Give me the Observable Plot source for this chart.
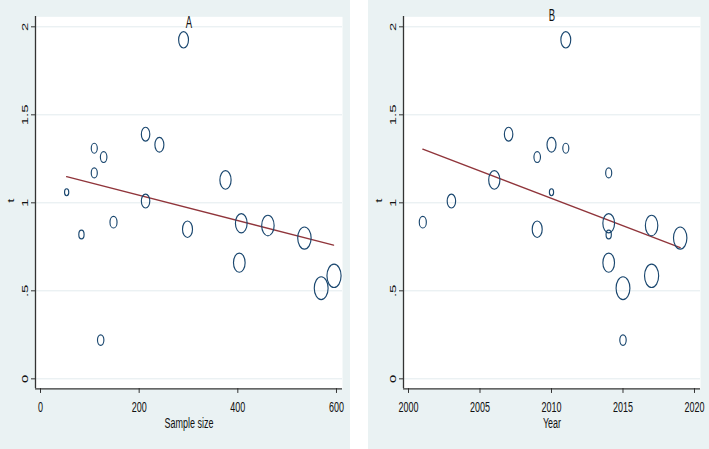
<!DOCTYPE html>
<html>
<head>
<meta charset="utf-8">
<script src="https://cdn.jsdelivr.net/npm/d3@7"></script>
<script src="https://cdn.jsdelivr.net/npm/@observablehq/plot@0.6"></script>
<style>
  html, body { margin: 0; padding: 0; background: #ffffff; }
  #wrap { display: flex; width: 709px; height: 449px; }
  #wrap svg { display: block; flex: none; }
  #wrap svg * { vector-effect: non-scaling-stroke; }
  .spacer { width: 18px; flex: none; background: #ffffff; }
</style>
</head>
<body>
<div id="wrap"></div>
<script>
// ---- data ----
const sampleSize = [53, 83, 109, 109, 128, 122, 148, 213, 213, 241, 290, 298, 375, 407, 403, 461, 535, 569, 595];
const tStat      = [1.06, 0.82, 1.31, 1.17, 1.26, 0.22, 0.89, 1.39, 1.01, 1.33, 1.926, 0.85, 1.13, 0.884, 0.66, 0.871, 0.80, 0.515, 0.585];
const year       = [2010, 2014, 2011, 2014, 2009, 2015, 2001, 2007, 2003, 2010, 2011, 2009, 2006, 2014, 2014, 2017, 2019, 2015, 2017];

// fitted (weighted) regression lines, endpoints
const fitAx = [53, 594];
const fitAy = [1.149, 0.760];
const fitBx = [2001, 2019];
const fitBy = [1.305, 0.746];

// ticks
const yTicks = [0, 0.5, 1, 1.5, 2];
const yTickLabels = ["0", ".5", "1", "1.5", "2"];
const xTicksA = [0, 200, 400, 600];
const xTickLabelsA = ["0", "200", "400", "600"];
const xTicksB = [2000, 2005, 2010, 2015, 2020];
const xTickLabelsB = ["2000", "2005", "2010", "2015", "2020"];

const titles = ["A", "B"];
const xTitles = ["Sample size", "Year"];
const yTitle = "t";

// ---- rendering ----
const rows = sampleSize.map((n, i) => ({n, t: tStat[i], year: year[i]}));
const fitA = fitAx.map((x, i) => ({x, y: fitAy[i]}));
const fitB = fitBx.map((x, i) => ({x, y: fitBy[i]}));

const S = 449 / 272;               // vertical stretch of the reference picture
const H = 272;
const yDomain = [-0.0568, 2.0568];
const font = "'Liberation Sans', Arial, Helvetica, sans-serif";

function panel({w, mr, xDomain, xTicks, xTickLabels, xKey, fit, title, titleDy, xTitle}) {
  const svg = Plot.plot({
    width: w, height: H,
    marginLeft: 35, marginRight: mr, marginTop: 16 / S, marginBottom: 61 / S,
    x: {domain: xDomain},
    y: {domain: yDomain},
    r: {type: "sqrt", domain: [0, 600], range: [0, 7.1]},
    style: {fontFamily: font, fontSize: "9px", background: "#eaf2f3", color: "#111", overflow: "visible"},
    marks: [
      Plot.frame({fill: "white", stroke: null}),
      Plot.gridY(yTicks, {stroke: "#e2ebee", strokeOpacity: 1, strokeWidth: 1}),
      Plot.ruleX([xDomain[0]], {stroke: "#333", strokeWidth: 1.3}),
      Plot.ruleY([yDomain[0]], {stroke: "#333", strokeWidth: 1.3}),
      Plot.axisX(xTicks, {tickSize: 3, tickPadding: 4.5, label: null, stroke: "#333", fontSize: 9,
        tickFormat: d => xTickLabels[xTicks.indexOf(d)]}),
      Plot.axisY(yTicks, {tickSize: 4, tickPadding: 3.7, tickRotate: -90, label: null, stroke: "#333", fontSize: 9,
        tickFormat: d => yTickLabels[yTicks.indexOf(d)]}),
      Plot.line(fit, {x: "x", y: "y", stroke: "#90353b", strokeWidth: 1.4}),
      Plot.dot(rows, {x: xKey, y: "t", r: "n", stroke: "#1a476f", strokeWidth: 1.15, fill: "none"}),
      Plot.text([title], {frameAnchor: "top", lineAnchor: "middle", dy: titleDy, fontSize: 9.5}),
      Plot.text([xTitle], {frameAnchor: "bottom", lineAnchor: "top", dy: 17.4, fontSize: 9}),
      Plot.text([yTitle], {frameAnchor: "left", rotate: -90, lineAnchor: "bottom", dx: -22, fontSize: 9})
    ]
  });
  svg.setAttribute("preserveAspectRatio", "none");
  svg.setAttribute("height", 449);
  svg.style.height = "449px";
  svg.style.width = w + "px";
  svg.style.maxWidth = "none";
  svg.style.background = "#eaf2f3";
  return svg;
}

const wrap = document.getElementById("wrap");
wrap.appendChild(panel({
  w: 350, mr: 8, xDomain: [-10.14, 612.2], xTicks: xTicksA, xTickLabels: xTickLabelsA, xKey: "n", fit: fitA,
  title: titles[0], titleDy: 3.9, xTitle: xTitles[0]
}));
const sp = document.createElement("div"); sp.className = "spacer"; wrap.appendChild(sp);
wrap.appendChild(panel({
  w: 341, mr: 9, xDomain: [1999.65, 2020.42], xTicks: xTicksB, xTickLabels: xTickLabelsB, xKey: "year", fit: fitB,
  title: titles[1], titleDy: -0.6, xTitle: xTitles[1]
}));
</script>
</body>
</html>
